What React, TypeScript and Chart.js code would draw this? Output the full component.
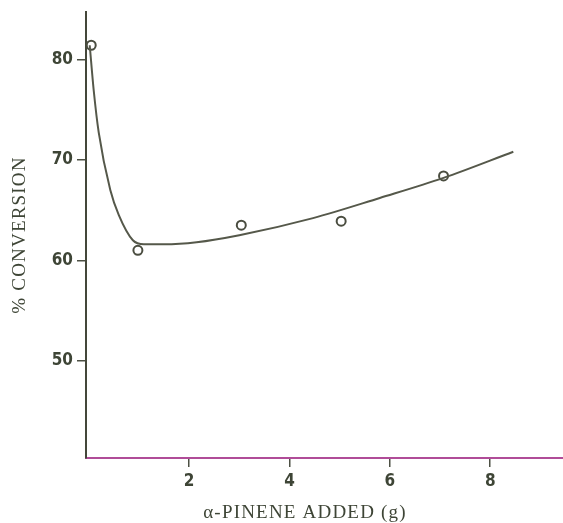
import React, { useEffect, useRef } from "react";
import { Chart, registerables } from "chart.js";

Chart.register(...registerables);

// Measured points (circles)
const pointX = [0.05, 0.98, 3.04, 5.03, 7.07];
const pointY = [81.4, 61.0, 63.5, 63.9, 68.4];

// Hand-drawn fitted curve, read along its path
const curveX = [0.02, 0.1, 0.2, 0.43, 0.6, 0.88, 1.1, 1.5, 2.15, 3.0, 4.47, 5.8, 7.07, 8.46];
const curveY = [81.4, 76.9, 72.7, 67.0, 64.5, 62.0, 61.6, 61.6, 61.8, 62.5, 64.2, 66.2, 68.2, 70.8];

const xTicks = [2, 4, 6, 8];
const yTicks = [50, 60, 70, 80];

const xTitle = "α-PINENE ADDED (g)";
const yTitle = "% CONVERSION";

const INK = "#3e4536";
const TICK_FAMILY = "'Liberation Sans Narrow', 'DejaVu Sans Condensed', 'DejaVu Sans', sans-serif";
const TITLE_FONT = "19px 'Liberation Serif', 'DejaVu Serif', serif";

const titlePlugin = {
  id: "handTitles",
  afterDraw(chart: any) {
    const ctx = chart.ctx as CanvasRenderingContext2D;
    const area = chart.chartArea;
    ctx.save();
    ctx.fillStyle = INK;
    ctx.font = TITLE_FONT;
    (ctx as any).letterSpacing = "1.2px";
    ctx.textAlign = "center";
    ctx.textBaseline = "middle";
    ctx.fillText(xTitle, area.left + 219, 513);
    ctx.translate(20, (area.top + area.bottom) / 2);
    ctx.rotate(-Math.PI / 2);
    ctx.fillText(yTitle, 0, 0);
    ctx.restore();
  },
};

export default function App() {
  const ref = useRef<HTMLCanvasElement | null>(null);

  useEffect(() => {
    if (!ref.current) return;
    const chart = new Chart(ref.current, {
      type: "scatter",
      data: {
        datasets: [
          {
            type: "line",
            label: "curve",
            data: curveX.map((x, i) => ({ x, y: curveY[i] })),
            borderColor: "#55584a",
            borderWidth: 2,
            pointRadius: 0,
            tension: 0.4,
            cubicInterpolationMode: "monotone",
            fill: false,
          } as any,
          {
            label: "data",
            data: pointX.map((x, i) => ({ x, y: pointY[i] })),
            pointStyle: "circle",
            pointRadius: 4.5,
            borderWidth: 2,
            borderColor: "#4a4d40",
            backgroundColor: "rgba(255,255,255,0.9)",
          },
        ],
      },
      options: {
        responsive: false,
        animation: false,
        maintainAspectRatio: false,
        layout: { autoPadding: false, padding: { top: 12, right: 0, left: 0, bottom: 0 } },
        plugins: {
          legend: { display: false },
          tooltip: { enabled: false },
        },
        scales: {
          x: {
            type: "linear",
            min: -0.054,
            max: 9.45,
            afterBuildTicks: (s: any) => {
              s.ticks = xTicks.map((v) => ({ value: v }));
            },
            afterFit: (s: any) => {
              s.height = 65;
              s.paddingLeft = 0;
              s.paddingRight = 0;
            },
            grid: {
              display: true,
              drawOnChartArea: false,
              drawTicks: true,
              tickLength: 9,
              color: "#4d5044",
              lineWidth: 1.5,
            },
            border: { display: true, color: "#b04c98", width: 2 },
            ticks: {
              color: INK,
              padding: 4,
              font: { family: TICK_FAMILY, size: 17, weight: "bold" },
            },
          },
          y: {
            type: "linear",
            min: 40.33,
            max: 84.71,
            afterBuildTicks: (s: any) => {
              s.ticks = yTicks.map((v) => ({ value: v }));
            },
            afterFit: (s: any) => {
              s.width = 86;
              s.paddingTop = 0;
              s.paddingBottom = 0;
            },
            grid: {
              display: true,
              drawOnChartArea: false,
              drawTicks: true,
              tickLength: 9,
              color: "#4d5044",
              lineWidth: 1.5,
            },
            border: { display: true, color: "#44473a", width: 2 },
            ticks: {
              color: INK,
              padding: 4,
              font: { family: TICK_FAMILY, size: 17, weight: "bold" },
            },
          },
        },
      },
      plugins: [titlePlugin],
    } as any);
    return () => chart.destroy();
  }, []);

  return (
    <div style={{ position: "fixed", left: 0, top: 0, width: 563, height: 523, background: "#fff" }}>
      <canvas ref={ref} width={563} height={523} style={{ width: 563, height: 523, display: "block" }} />
    </div>
  );
}
